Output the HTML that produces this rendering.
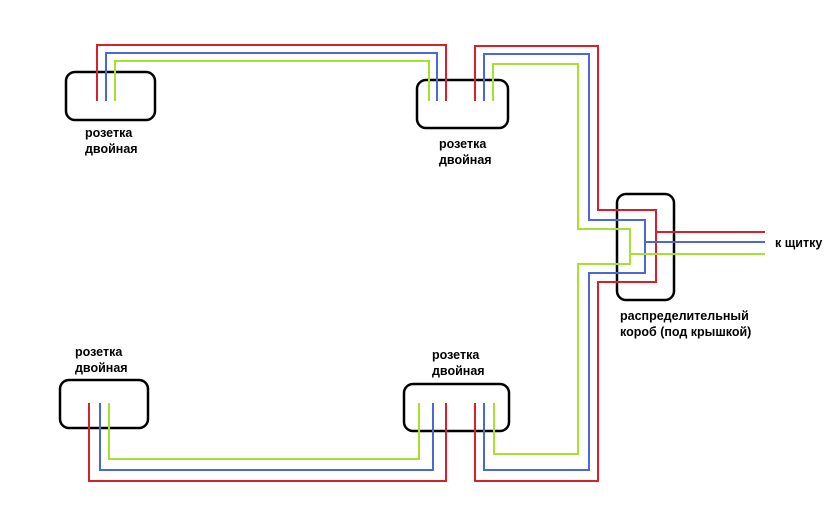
<!DOCTYPE html>
<html><head><meta charset="utf-8"><style>
body{margin:0;background:#fff}
svg text{font-family:"Liberation Sans","DejaVu Sans",sans-serif;font-weight:bold;font-size:12.5px;fill:#000}
</style></head><body>
<svg width="838" height="510" xmlns="http://www.w3.org/2000/svg">
<g fill="none" stroke-width="2">
<g stroke="#000" stroke-width="2.5">
<rect x="66" y="72" width="89" height="48" rx="9"/>
<rect x="417" y="80" width="91" height="48" rx="9"/>
<rect x="617" y="194" width="57" height="106" rx="9"/>
<rect x="60" y="380" width="88" height="48" rx="9"/>
<rect x="404" y="384" width="105" height="47" rx="9"/>
</g>
<polyline stroke="#d9202a" points="97,101 97,45 446,45 446,101"/>
<polyline stroke="#4a68d8" points="106,101 106,53 437,53 437,101"/>
<polyline stroke="#a8e030" points="115,101 115,61 429,61 429,101"/>
<polyline stroke="#d9202a" points="475,101 475,46 598,46 598,210 656,210 656,282 598,282 598,481 475,481 475,403"/>
<polyline stroke="#4a68d8" points="484,101 484,54 589,54 589,220 645,220 645,273 589,273 589,470 484,470 484,403"/>
<polyline stroke="#a8e030" points="493,101 493,64 578,64 578,229 630,229 630,264 578,264 578,454 494,454 494,403"/>
<line stroke="#d9202a" x1="656" y1="232" x2="765" y2="232"/>
<line stroke="#4a68d8" x1="645" y1="242" x2="765" y2="242"/>
<line stroke="#a8e030" x1="630" y1="254" x2="765" y2="254"/>
<polyline stroke="#d9202a" points="446,403 446,481 89,481 89,403"/>
<polyline stroke="#4a68d8" points="433,403 433,470 100,470 100,403"/>
<polyline stroke="#a8e030" points="419,403 419,459 109,459 109,403"/>
</g>
<text x="85" y="137">розетка</text><text x="85" y="153">двойная</text>
<text x="439" y="148">розетка</text><text x="439" y="164">двойная</text>
<text x="75" y="356">розетка</text><text x="75" y="372">двойная</text>
<text x="432" y="359">розетка</text><text x="432" y="375">двойная</text>
<text x="620" y="320">распределительный</text><text x="620" y="336">короб (под крышкой)</text>
<text x="775" y="247">к щитку</text>
</svg>
</body></html>
